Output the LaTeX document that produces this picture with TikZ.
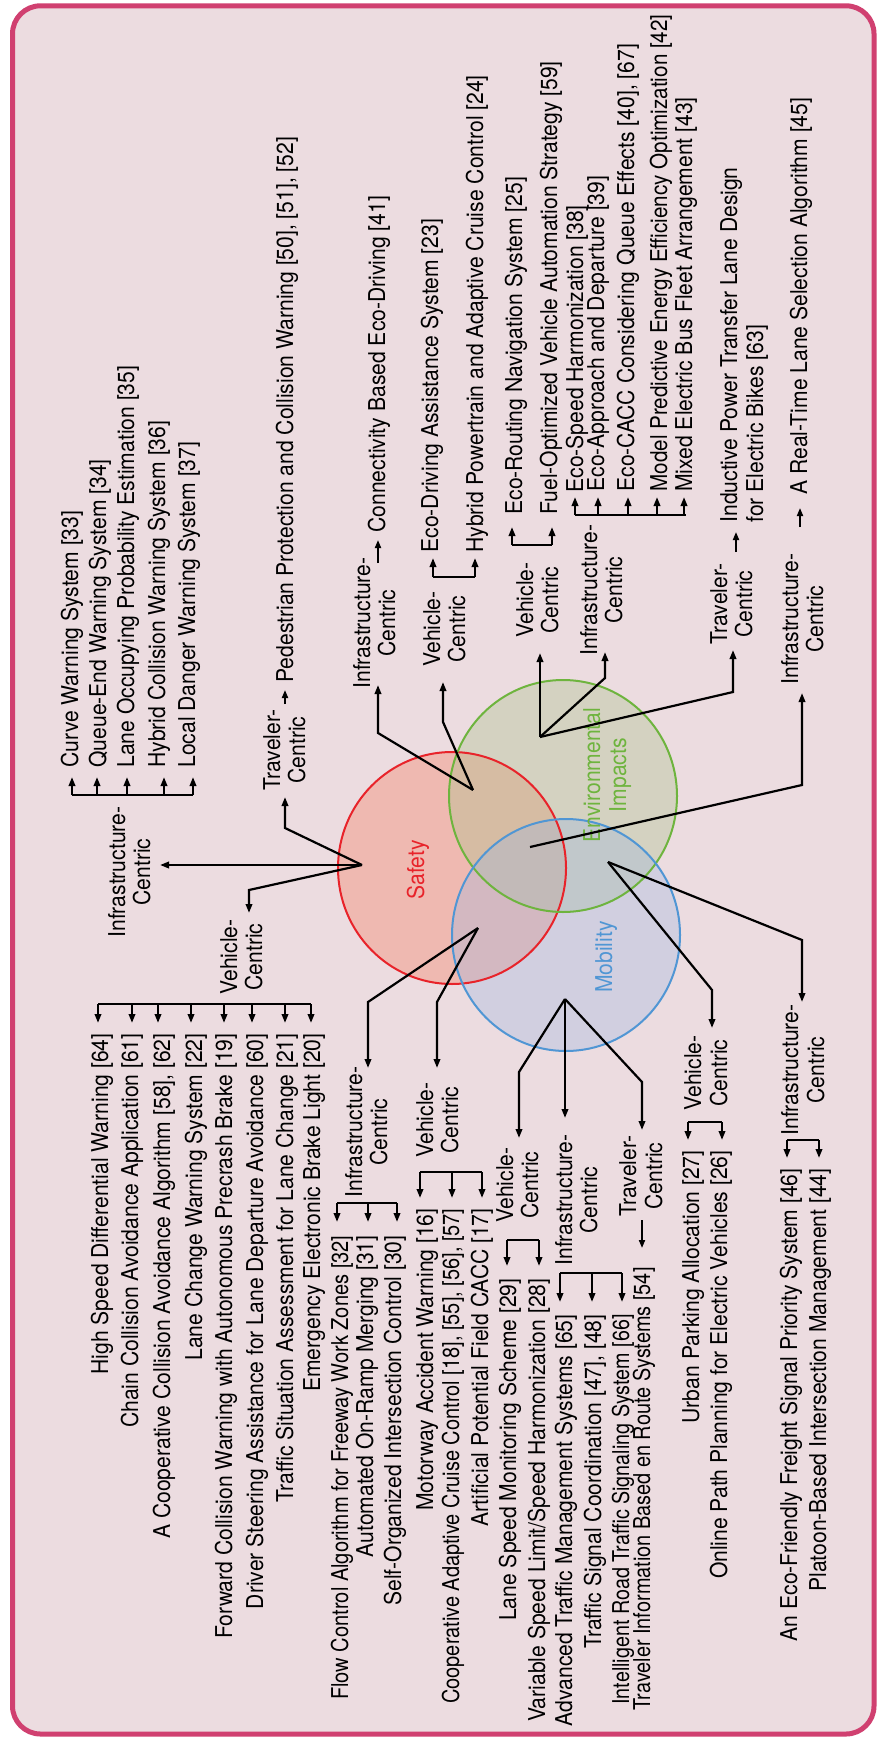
\documentclass[tikz,border=0pt]{standalone}
\usepackage{fontspec}
\setmainfont{TeX Gyre Heros}[FakeStretch=0.91]
\usepackage{graphicx}
\usetikzlibrary{arrows.meta}
\definecolor{bgpink}{RGB}{236,220,224}
\definecolor{framec}{RGB}{208,64,112}
\definecolor{safec}{RGB}{232,35,42}
\definecolor{envc}{RGB}{110,180,62}
\definecolor{mobc}{RGB}{80,150,212}
\definecolor{safef}{RGB}{245,120,90}
\definecolor{envf}{RGB}{170,194,138}
\definecolor{mobf}{RGB}{159,183,224}
\begin{document}
\begin{tikzpicture}[x=0.5pt,y=-0.5pt,
  txt/.style={rotate=90,inner sep=0pt,font=\fontsize{11.6}{12.5}\selectfont},
  conn/.style={line width=1.1pt,black},
  arr/.style={conn,-{Triangle[length=4.5pt,width=3.2pt]}},
  sarr/.style={line width=0.9pt,black,-{Triangle[length=4pt,width=3pt]}}]
\useasboundingbox (0,0) rectangle (877,1738);
\fill[white] (0,0) rectangle (877,1738);
\draw[framec,line width=2.5pt,fill=bgpink,rounded corners=14pt] (12.5,5.8) rectangle (874,1734);
% circles
\fill[safef,fill opacity=0.35] (452,868) ellipse[x radius=114,y radius=116];
\fill[envf,fill opacity=0.35] (563,796) ellipse[x radius=114,y radius=116];
\fill[mobf,fill opacity=0.35] (566,935) ellipse[x radius=114,y radius=116];
\draw[safec,line width=1pt] (452,868) ellipse[x radius=114,y radius=116];
\draw[envc,line width=1pt] (563,796) ellipse[x radius=114,y radius=116];
\draw[mobc,line width=1pt] (566,935) ellipse[x radius=114,y radius=116];
\node[txt,safec,anchor=base] (safety) at (424,870) {Safety};
\node[txt,envc,anchor=base] (env1) at (600,775) {Environmental};
\node[txt,envc,anchor=base] (env2) at (626,775) {Impacts};
\node[txt,mobc,anchor=base] (mob) at (612,957) {Mobility};
% hubs
\coordinate (h1) at (362,865);
\coordinate (h2) at (478,928);
\coordinate (h3) at (565,999);
\coordinate (h4) at (608,862);
\coordinate (h5) at (473,790);
\coordinate (h6) at (540,737);
\coordinate (h7) at (530,847);
% ---------- labels ----------
\node[txt,anchor=base] (l1a) at (125,872) {Infrastructure-};
\node[txt,anchor=base] (l1b) at (150,872) {Centric};
\node[txt,anchor=base] (l2a) at (280,750) {Traveler-};
\node[txt,anchor=base] (l2b) at (305,750) {Centric};
\node[txt,anchor=base] (l3a) at (237,957) {Vehicle-};
\node[txt,anchor=base] (l3b) at (262,957) {Centric};
\node[txt,anchor=base] (l4a) at (362,1132) {Infrastructure-};
\node[txt,anchor=base] (l4b) at (387,1132) {Centric};
\node[txt,anchor=base] (l5a) at (433,1120) {Vehicle-};
\node[txt,anchor=base] (l5b) at (458,1120) {Centric};
\node[txt,anchor=base] (l6a) at (513,1185) {Vehicle-};
\node[txt,anchor=base] (l6b) at (538,1185) {Centric};
\node[txt,anchor=base] (l7a) at (572,1200) {Infrastructure-};
\node[txt,anchor=base] (l7b) at (597,1200) {Centric};
\node[txt,anchor=base] (l8a) at (636,1176) {Traveler-};
\node[txt,anchor=base] (l8b) at (662,1176) {Centric};
\node[txt,anchor=base] (l9a) at (701,1073) {Vehicle-};
\node[txt,anchor=base] (l9b) at (727,1073) {Centric};
\node[txt,anchor=base] (l10a) at (798,1070) {Infrastructure-};
\node[txt,anchor=base] (l10b) at (824,1070) {Centric};
\node[txt,anchor=base] (l11a) at (370,623) {Infrastructure-};
\node[txt,anchor=base] (l11b) at (395,623) {Centric};
\node[txt,anchor=base] (l12a) at (440,629) {Vehicle-};
\node[txt,anchor=base] (l12b) at (465,629) {Centric};
\node[txt,anchor=base] (l13a) at (533,600) {Vehicle-};
\node[txt,anchor=base] (l13b) at (558,600) {Centric};
\node[txt,anchor=base] (l14a) at (597,590) {Infrastructure-};
\node[txt,anchor=base] (l14b) at (622,590) {Centric};
\node[txt,anchor=base] (l15a) at (727,604) {Traveler-};
\node[txt,anchor=base] (l15b) at (752,604) {Centric};
\node[txt,anchor=base] (l16a) at (798,619) {Infrastructure-};
\node[txt,anchor=base] (l16b) at (823,619) {Centric};
% ---------- hub connectors ----------
\coordinate (t1a) at (160,865);
\coordinate (c1b) at (285,828); \coordinate (t1b) at (285,797);
\coordinate (c1c) at (249,890); \coordinate (t1c) at (249,913);
\draw[arr] (h1) -- (t1a);
\draw[arr] (h1) -- (c1b) -- (t1b);
\draw[arr] (h1) -- (c1c) -- (t1c);
\coordinate (c2a) at (368,1002); \coordinate (t2a) at (368,1068);
\coordinate (c2b) at (437,1002); \coordinate (t2b) at (437,1068);
\draw[arr] (h2) -- (c2a) -- (t2a);
\draw[arr] (h2) -- (c2b) -- (t2b);
\coordinate (c3a) at (519,1072); \coordinate (t3a) at (519,1138);
\coordinate (t3b) at (565,1118);
\coordinate (c3c) at (642,1082); \coordinate (t3c) at (642,1130);
\draw[arr] (h3) -- (c3a) -- (t3a);
\draw[arr] (h3) -- (t3b);
\draw[arr] (h3) -- (c3c) -- (t3c);
\coordinate (c4a) at (712,990); \coordinate (t4a) at (712,1028);
\coordinate (c4b) at (802,940); \coordinate (t4b) at (802,1002);
\draw[arr] (h4) -- (c4a) -- (t4a);
\draw[arr] (h4) -- (c4b) -- (t4b);
\coordinate (c5a) at (378,733); \coordinate (t5a) at (378,685);
\coordinate (c5b) at (443,722); \coordinate (t5b) at (443,682);
\draw[arr] (h5) -- (c5a) -- (t5a);
\draw[arr] (h5) -- (c5b) -- (t5b);
\coordinate (t6a) at (540,653);
\coordinate (c6b) at (605,678); \coordinate (t6b) at (605,652);
\coordinate (c6c) at (733,692); \coordinate (t6c) at (733,650);
\draw[arr] (h6) -- (t6a);
\draw[arr] (h6) -- (c6b) -- (t6b);
\draw[arr] (h6) -- (c6c) -- (t6c);
\coordinate (c7) at (802,785); \coordinate (t7) at (802,693);
\draw[arr] (h7) -- (c7) -- (t7);
% ---------- short arrows from labels to items ----------
\coordinate (s1a) at (285,704); \coordinate (s1b) at (285,690);
\draw[sarr] (s1a) -- (s1b);
\coordinate (s2a) at (378,563); \coordinate (s2b) at (378,540);
\draw[sarr] (s2a) -- (s2b);
\coordinate (s3a) at (736,552); \coordinate (s3b) at (736,532);
\draw[sarr] (s3a) -- (s3b);
\coordinate (s4a) at (800,527); \coordinate (s4b) at (800,508);
\draw[sarr] (s4a) -- (s4b);
\coordinate (s5a) at (642,1220); \coordinate (s5b) at (642,1248);
\draw[sarr] (s5a) -- (s5b);
% ---------- brackets ----------
% B1 safety infra
\coordinate (b1l) at (72,795); \coordinate (b1r) at (193,795);
\draw[conn] (b1l) -- (b1r);
\foreach \x in {72,97,127,164,193} \draw[arr] (\x,795) -- (\x,777);
% B2 safety vehicle
\coordinate (b2l) at (98,1004); \coordinate (b2r) at (311,1004);
\draw[conn] (b2l) -- (b2r);
\foreach \x in {98,132,158,191,224,252,285,311} \draw[arr] (\x,1004) -- (\x,1023);
% B3 hub2 infra
\coordinate (b3l) at (337,1203); \coordinate (b3r) at (397,1203);
\draw[conn] (b3l) -- (b3r);
\foreach \x in {337,368,397} \draw[arr] (\x,1203) -- (\x,1222);
% B4 hub2 vehicle
\coordinate (b4l) at (420,1172); \coordinate (b4r) at (482,1172);
\draw[conn] (b4l) -- (b4r);
\foreach \x in {420,452,482} \draw[arr] (\x,1172) -- (\x,1198);
% B5 hub3 vehicle
\coordinate (b5l) at (507,1240); \coordinate (b5r) at (539,1240);
\draw[conn] (b5l) -- (b5r);
\foreach \x in {507,539} \draw[arr] (\x,1240) -- (\x,1266);
% B6 hub3 infra
\coordinate (b6l) at (560,1273); \coordinate (b6r) at (622,1273);
\draw[conn] (b6l) -- (b6r);
\foreach \x in {560,592,622} \draw[arr] (\x,1273) -- (\x,1302);
% B7 hub4 vehicle
\coordinate (b7l) at (688,1122); \coordinate (b7r) at (722,1122);
\draw[conn] (b7l) -- (b7r);
\foreach \x in {688,722} \draw[arr] (\x,1122) -- (\x,1140);
% B8 hub4 infra
\coordinate (b8l) at (787,1140); \coordinate (b8r) at (819,1140);
\draw[conn] (b8l) -- (b8r);
\foreach \x in {787,819} \draw[arr] (\x,1140) -- (\x,1158);
% B9 hub5 vehicle
\coordinate (b9l) at (433,577); \coordinate (b9r) at (475,577);
\draw[conn] (b9l) -- (b9r);
\foreach \x in {433,475} \draw[arr] (\x,577) -- (\x,558);
% B10 hub6 vehicle
\coordinate (b10l) at (512,545); \coordinate (b10r) at (552,545);
\draw[conn] (b10l) -- (b10r);
\foreach \x in {512,552} \draw[arr] (\x,545) -- (\x,527);
% B11 hub6 infra
\coordinate (b11l) at (575,515); \coordinate (b11r) at (686,515);
\draw[conn] (b11l) -- (b11r);
\foreach \x in {575,598,628,657,684} \draw[arr] (\x,515) -- (\x,497);
% ---------- item texts ----------
% safety infra
\node[txt,anchor=base west] (i33) at (78,768) {Curve Warning System [33]};
\node[txt,anchor=base west] (i34) at (106,768) {Queue-End Warning System [34]};
\node[txt,anchor=base west] (i35) at (134,768) {Lane Occupying Probability Estimation [35]};
\node[txt,anchor=base west] (i36) at (165,768) {Hybrid Collision Warning System [36]};
\node[txt,anchor=base west] (i37) at (195,768) {Local Danger Warning System [37]};
% safety traveler
\node[txt,anchor=base west] (i50) at (293,683) {Pedestrian Protection and Collision Warning [50], [51], [52]};
% safety vehicle
\node[txt,anchor=base east] (i64) at (108,1033) {High Speed Differential Warning [64]};
\node[txt,anchor=base east] (i61) at (138,1033) {Chain Collision Avoidance Application [61]};
\node[txt,anchor=base east] (i58) at (170,1033) {A Cooperative Collision Avoidance Algorithm [58], [62]};
\node[txt,anchor=base east] (i22) at (202,1033) {Lane Change Warning System [22]};
\node[txt,anchor=base east] (i19) at (232,1033) {Forward Collision Warning with Autonomous Precrash Brake [19]};
\node[txt,anchor=base east] (i60) at (263,1033) {Driver Steering Assistance for Lane Departure Avoidance [60]};
\node[txt,anchor=base east] (i21) at (293,1033) {Traffic Situation Assessment for Lane Change [21]};
\node[txt,anchor=base east] (i20) at (320,1033) {Emergency Electronic Brake Light [20]};
% safety-mobility infra
\node[txt,anchor=base east] (i32) at (348,1235) {\scalebox{0.951}[1]{Flow Control Algorithm for Freeway Work Zones [32]}};
\node[txt,anchor=base east] (i31) at (373,1235) {Automated On-Ramp Merging [31]};
\node[txt,anchor=base east] (i30) at (401,1235) {Self-Organized Intersection Control [30]};
% safety-mobility vehicle
\node[txt,anchor=base east] (i16) at (433,1208) {Motorway Accident Warning [16]};
\node[txt,anchor=base east] (i18) at (459,1208) {\scalebox{0.947}[1]{Cooperative Adaptive Cruise Control [18], [55], [56], [57]}};
\node[txt,anchor=base east] (i17) at (488,1208) {Artificial Potential Field CACC [17]};
% mobility vehicle
\node[txt,anchor=base east] (i29) at (516,1278) {Lane Speed Monitoring Scheme [29]};
\node[txt,anchor=base east] (i28) at (545,1278) {Variable Speed Limit/Speed Harmonization [28]};
% mobility infra
\node[txt,anchor=base east] (i65) at (572,1314) {Advanced Traffic Management Systems [65]};
\node[txt,anchor=base east] (i47) at (601,1314) {Traffic Signal Coordination [47], [48]};
\node[txt,anchor=base east] (i66) at (629,1314) {\scalebox{0.934}[1]{Intelligent Road Traffic Signaling System [66]}};
% mobility traveler
\node[txt,anchor=base east] (i54) at (650,1267) {\scalebox{0.943}[1]{Traveler Information Based en Route Systems [54]}};
% env-mobility vehicle
\node[txt,anchor=base east] (i27) at (699,1150) {Urban Parking Allocation [27]};
\node[txt,anchor=base east] (i26) at (727,1150) {Online Path Planning for Electric Vehicles [26]};
% env-mobility infra
\node[txt,anchor=base east] (i46) at (797,1168) {An Eco-Friendly Freight Signal Priority System [46]};
\node[txt,anchor=base east] (i44) at (826,1168) {Platoon-Based Intersection Management [44]};
% safety-env
\node[txt,anchor=base west] (i41) at (385,533) {Connectivity Based Eco-Driving [41]};
\node[txt,anchor=base west] (i23) at (438,553) {Eco-Driving Assistance System [23]};
\node[txt,anchor=base west] (i24) at (483,553) {Hybrid Powertrain and Adaptive Cruise Control [24]};
% env vehicle
\node[txt,anchor=base west] (i25) at (522,515) {Eco-Routing Navigation System [25]};
\node[txt,anchor=base west] (i59) at (557,515) {Fuel-Optimized Vehicle Automation Strategy [59]};
% env infra
\node[txt,anchor=base west] (i38) at (583,493) {Eco-Speed Harmonization [38]};
\node[txt,anchor=base west] (i39) at (604,492) {Eco-Approach and Departure [39]};
\node[txt,anchor=base west] (i40) at (634,492) {Eco-CACC Considering Queue Effects [40], [67]};
\node[txt,anchor=base west] (i42) at (667,492) {\scalebox{0.978}[1]{Model Predictive Energy Efficiency Optimization [42]}};
\node[txt,anchor=base west] (i43) at (692,492) {Mixed Electric Bus Fleet Arrangement [43]};
% env traveler
\node[txt,anchor=base west] (i63a) at (737,523) {Inductive Power Transfer Lane Design};
\node[txt,anchor=base west] (i63b) at (763,523) {for Electric Bikes [63]};
% triple infra
\node[txt,anchor=base west] (i45) at (807,495) {A Real-Time Lane Selection Algorithm [45]};
\end{tikzpicture}
\end{document}
